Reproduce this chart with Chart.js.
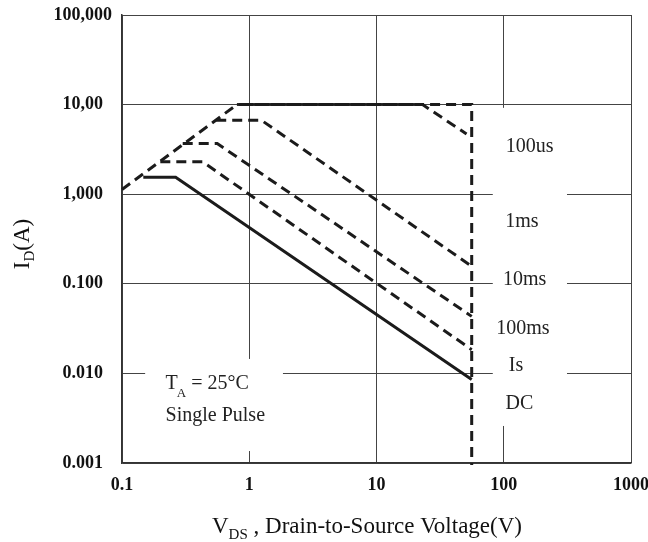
<!DOCTYPE html>
<html>
<head>
<meta charset="utf-8">
<script src="https://cdn.jsdelivr.net/npm/chart.js@4.4.1/dist/chart.umd.min.js"></script>
<style>
html, body { margin: 0; padding: 0; background: #fff; }
</style>
</head>
<body>
<canvas id="soa" width="648" height="542"></canvas>
<script>
// axis ticks
var xTicks = [0.1, 1, 10, 100, 1000];
var xTickLabels = ['0.1', '1', '10', '100', '1000'];
var yTicks = [0.001, 0.01, 0.1, 1, 10, 100];
var yTickLabels = ['0.001', '0.010', '0.100', '1,000', '10,00', '100,000'];

// SOA curves (V, A)
var limitV = [0.1, 0.8, 56, 56];
var limitI = [1.13, 10, 10, 0.00095];
var us100V = [0.8, 23, 51];
var us100I = [10, 10, 4.7];
var ms1V = [0.55, 1.25, 55.6];
var ms1I = [6.67, 6.67, 0.158];
var ms10V = [0.30, 0.56, 56];
var ms10I = [3.67, 3.67, 0.0433];
var ms100V = [0.20, 0.43, 56];
var ms100I = [2.3, 2.3, 0.0184];
var dcV = [0.147, 0.264, 56];
var dcI = [1.55, 1.55, 0.00857];

var curveNames = ['100us', '1ms', '10ms', '100ms', 'Is', 'DC'];

var serif = '"Liberation Serif", "Times New Roman", serif';
var ink = '#1b1b1b';
var gridColor = '#444';

function pts(xs, ys) {
    return xs.map(function (v, i) { return { x: v, y: ys[i] }; });
}

function curve(xs, ys, dashed, offset) {
    return {
        data: pts(xs, ys),
        showLine: true,
        borderColor: ink,
        borderWidth: 3,
        borderDash: dashed ? [10, 6] : [],
        borderDashOffset: offset || 0,
        pointRadius: 0,
        tension: 0,
        fill: false,
        clip: false
    };
}

// white boxes behind the text (data coords), then text
var overlay = {
    id: 'overlay',
    beforeDatasetsDraw(chart, args, opts) {
        const { ctx, scales: { x, y } } = chart;
        ctx.save();
        ctx.fillStyle = '#fff';
        opts.boxes.forEach(function (b) {
            const x0 = x.getPixelForValue(b[0]), x1 = x.getPixelForValue(b[1]);
            const y0 = y.getPixelForValue(b[3]), y1 = y.getPixelForValue(b[2]);
            ctx.fillRect(x0, y0, x1 - x0, y1 - y0);
        });
        ctx.restore();
    },
    afterDraw(chart, args, opts) {
        const { ctx, scales: { x, y } } = chart;
        ctx.save();
        ctx.fillStyle = '#222';

        // curve names
        ctx.font = '20px ' + serif;
        ctx.textAlign = 'center';
        ctx.textBaseline = 'middle';
        opts.names.forEach(function (n, i) {
            const p = opts.namePos[i];
            ctx.fillText(n, x.getPixelForValue(p[0]), y.getPixelForValue(p[1]));
        });

        // T_A = 25°C / Single Pulse
        ctx.textAlign = 'left';
        ctx.textBaseline = 'alphabetic';
        let tx = x.getPixelForValue(0.22);
        let ty = y.getPixelForValue(0.00668);
        ctx.font = '20px ' + serif;
        ctx.fillText('T', tx, ty);
        let w = ctx.measureText('T').width;
        ctx.font = '13px ' + serif;
        ctx.fillText('A', tx + w - 1, ty + 8);
        w += ctx.measureText('A').width - 1;
        ctx.font = '20px ' + serif;
        ctx.fillText(' = 25\u00B0C', tx + w, ty);
        ctx.fillText('Single Pulse', tx, y.getPixelForValue(0.00294));

        // x title
        ctx.fillStyle = '#111';
        const big = '23px ' + serif, small = '15px ' + serif;
        ctx.font = big;
        const wV = ctx.measureText('V').width;
        const rest = ' , Drain-to-Source Voltage(V)';
        const wR = ctx.measureText(rest).width;
        ctx.font = small;
        const wDS = ctx.measureText('DS').width;
        let sx = 367 - (wV + wDS + wR) / 2;
        ctx.font = big;
        ctx.fillText('V', sx, 533);
        ctx.font = small;
        ctx.fillText('DS', sx + wV, 539);
        ctx.font = big;
        ctx.fillText(rest, sx + wV + wDS, 533);

        // y title
        ctx.translate(29, 244);
        ctx.rotate(-Math.PI / 2);
        ctx.font = big;
        const wI = ctx.measureText('I').width;
        const wA = ctx.measureText('(A)').width;
        ctx.font = small;
        const wD = ctx.measureText('D').width;
        let s = -(wI + wD + wA) / 2;
        ctx.font = big;
        ctx.fillText('I', s, 0);
        ctx.font = small;
        ctx.fillText('D', s + wI, 5);
        ctx.font = big;
        ctx.fillText('(A)', s + wI + wD, 0);
        ctx.restore();
    }
};

var ctx = document.getElementById('soa').getContext('2d');
var soaChart = new Chart(ctx, {
    type: 'scatter',
    data: {
        datasets: [
            curve(limitV, limitI, true),
            curve(us100V, us100I, true, 9),
            curve(ms1V, ms1I, true),
            curve(ms10V, ms10I, true),
            curve(ms100V, ms100I, true),
            curve(dcV, dcI, false)
        ]
    },
    options: {
        responsive: false,
        animation: false,
        layout: { padding: { top: 15, right: 17, left: 0, bottom: 0 } },
        plugins: {
            legend: { display: false },
            tooltip: { enabled: false },
            overlay: {
                boxes: [[82, 314, 0.00259, 9.2], [0.152, 1.84, 0.00136, 0.0145]],
                names: curveNames,
                namePos: [[160, 3.42], [139, 0.499], [146, 0.112], [141.6, 0.0312], [124.7, 0.0122], [133, 0.00455]]
            }
        },
        scales: {
            x: {
                type: 'logarithmic',
                min: 0.1,
                max: 1000,
                afterBuildTicks: function (s) { s.ticks = xTicks.map(function (v) { return { value: v }; }); },
                afterFit: function (s) {
                    s.height = 79;
                    s.paddingLeft = 0;
                    s.paddingRight = 0;
                },
                grid: { color: gridColor, lineWidth: 1, drawTicks: false },
                border: { color: '#333', width: 1.5 },
                ticks: {
                    font: { family: serif, size: 18, weight: 'bold' },
                    color: '#111',
                    padding: 12,
                    maxRotation: 0,
                    autoSkip: false,
                    callback: function (v, i) { return xTickLabels[i]; }
                }
            },
            y: {
                type: 'logarithmic',
                min: 0.001,
                max: 100,
                afterBuildTicks: function (s) { s.ticks = yTicks.map(function (v) { return { value: v }; }); },
                afterFit: function (s) {
                    s.width = 122;
                    s.paddingTop = 0;
                    s.paddingBottom = 0;
                },
                grid: { color: gridColor, lineWidth: 1, drawTicks: false },
                border: { color: '#333', width: 1.5 },
                ticks: {
                    font: { family: serif, size: 18, weight: 'bold' },
                    color: '#111',
                    padding: 10,
                    crossAlign: 'center',
                    autoSkip: false,
                    callback: function (v, i) { return yTickLabels[i]; }
                }
            }
        }
    },
    plugins: [overlay]
});
</script>
</body>
</html>
